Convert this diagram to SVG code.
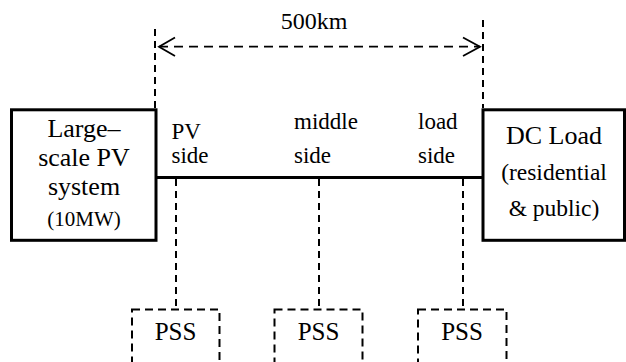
<svg xmlns="http://www.w3.org/2000/svg" width="626" height="362" viewBox="0 0 626 362">
<defs>
<style>
text { font-family: "Liberation Serif", "Times New Roman", serif; fill: #000; }
.box { fill: #fff; stroke: #000; stroke-width: 3; }
.pss { fill: none; stroke: #000; stroke-width: 2; stroke-dasharray: 8 5; }
.vd { fill: none; stroke: #000; stroke-width: 2; stroke-dasharray: 7 5; }
.bus { fill: none; stroke: #000; stroke-width: 3; }
.arrow { fill: none; stroke: #000; stroke-width: 1.8; stroke-dasharray: 9 6; }
.head { fill: none; stroke: #000; stroke-width: 1.8; }
.big { font-size: 26px; text-anchor: middle; }
.lbl { font-size: 23px; }
</style>
</defs>
<g id="connectors">
<line class="vd" x1="155" y1="29" x2="155" y2="108"/>
<line class="vd" x1="483" y1="20" x2="483" y2="108"/>
<line class="arrow" x1="159" y1="46.7" x2="480" y2="46.7"/>
<polyline class="head" points="175,37.5 159,46.7 175,56"/>
<polyline class="head" points="463,37.5 480,46.7 463,56"/>
<line class="bus" x1="156" y1="177.5" x2="483" y2="177.5"/>
<line class="vd" x1="176" y1="179" x2="176" y2="309"/>
<line class="vd" x1="319" y1="179" x2="319" y2="309"/>
<line class="vd" x1="463" y1="179" x2="463" y2="309"/>
</g>
<text x="314" y="29" font-size="24" text-anchor="middle">500km</text>
<g id="pv">
<rect class="box" x="11.5" y="109.8" width="144.5" height="130.5"/>
<text class="big" x="84" y="137">Large–</text>
<text class="big" x="84" y="166">scale PV</text>
<text class="big" x="84" y="194.5">system</text>
<text x="84" y="226" font-size="21" text-anchor="middle">(10MW)</text>
</g>
<g id="load">
<rect class="box" x="483" y="109.8" width="141.5" height="130.5"/>
<text class="big" x="554" y="143.5">DC Load</text>
<text x="554" y="180" font-size="23.5" text-anchor="middle">(residential</text>
<text x="554" y="216" font-size="23.5" text-anchor="middle">&amp; public)</text>
</g>
<g id="labels">
<text class="lbl" x="171.5" y="139">PV</text>
<text class="lbl" x="171.5" y="163">side</text>
<text class="lbl" x="294" y="129">middle</text>
<text class="lbl" x="294" y="163">side</text>
<text class="lbl" x="418" y="129">load</text>
<text class="lbl" x="418" y="163">side</text>
</g>
<g id="pss1">
<rect class="pss" x="132" y="309.5" width="87.5" height="70"/>
<text x="175.5" y="340" font-size="25" text-anchor="middle">PSS</text>
</g>
<g id="pss2">
<rect class="pss" x="274.5" y="309.5" width="88" height="70"/>
<text x="318.5" y="340" font-size="25" text-anchor="middle">PSS</text>
</g>
<g id="pss3">
<rect class="pss" x="418" y="309.5" width="88.5" height="70"/>
<text x="462" y="340" font-size="25" text-anchor="middle">PSS</text>
</g>
</svg>
